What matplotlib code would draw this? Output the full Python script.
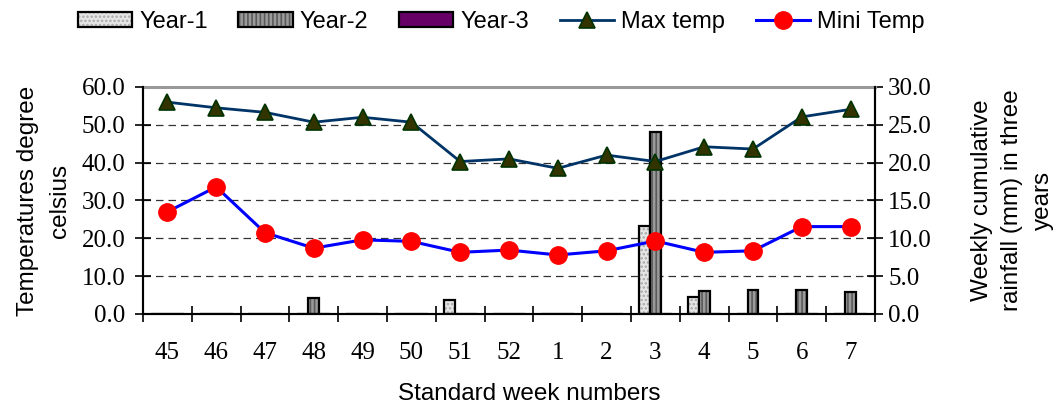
import matplotlib
matplotlib.use("Agg")
import matplotlib.pyplot as plt
import numpy as np
from matplotlib.patches import Patch

weeks = ["45", "46", "47", "48", "49", "50", "51", "52", "1", "2", "3", "4", "5", "6", "7"]
max_temp = [56.0, 54.5, 53.3, 50.7, 52.0, 50.7, 40.3, 41.0, 38.5, 42.0, 40.3, 44.2, 43.6, 52.1, 54.1]
mini_temp = [27.0, 33.6, 21.5, 17.4, 19.6, 19.2, 16.3, 16.9, 15.6, 16.7, 19.3, 16.3, 16.7, 23.1, 23.1]
rain_year1 = [0, 0, 0, 0, 0, 0, 1.8, 0, 0, 0, 11.6, 2.2, 0, 0, 0]
rain_year2 = [0, 0, 0, 2.1, 0, 0, 0, 0, 0, 0, 24.1, 3.1, 3.2, 3.2, 2.85]
rain_year3 = [0] * 15

serif = "Liberation Serif"
sans = "Liberation Sans"
tick_fs = 18
label_fs = 17.5
legend_fs = 17

plt.rcParams["hatch.linewidth"] = 1.2

fig = plt.figure(figsize=(10.55, 4.05), dpi=100)
ax = fig.add_axes([0.1355, 0.2247, 0.6939, 0.5605])
ax2 = ax.twinx()

x = np.arange(len(weeks))
w = 0.225

# rainfall bars on the secondary axis: hatched fill + black outline
bar_styles = [
    (rain_year1, -w, "#e6e6e6", "....", "#a8a8a8"),
    (rain_year2, 0.0, "#9a9a9a", "||||", "#5a5a5a"),
    (rain_year3, w, "#660066", None, "#660066"),
]
handles = []
for vals, off, fc, hatch, hc in bar_styles:
    ax2.bar(x + off, vals, width=w, color=fc, hatch=hatch, edgecolor=hc, linewidth=0)
    ax2.bar(x + off, vals, width=w, fill=False, edgecolor="black", linewidth=1.6)
    handles.append((Patch(facecolor=fc, hatch=hatch, edgecolor=hc, linewidth=0),
                    Patch(fill=False, edgecolor="black", linewidth=1.6)))

ax2.set_ylim(0, 30)
ax2.set_yticks(np.arange(0, 30.1, 5))
ax2.set_yticklabels([f"{v:.1f}" for v in np.arange(0, 30.1, 5)], fontfamily=serif, fontsize=tick_fs)

# temperature lines on the primary axis, drawn above the bars
ax.set_zorder(ax2.get_zorder() + 1)
ax.patch.set_visible(False)
ln_max, = ax.plot(x, max_temp, color="#003366", lw=2, marker="^", ms=12,
                  mfc="#333300", mec="#003300", mew=1.2)
ln_min, = ax.plot(x, mini_temp, color="#0000ff", lw=2.2, marker="o", ms=12.5,
                  mfc="#ff0000", mec="#ff0000")

ax.set_ylim(0, 60)
ax.set_yticks(np.arange(0, 60.1, 10))
ax.set_yticklabels([f"{v:.1f}" for v in np.arange(0, 60.1, 10)], fontfamily=serif, fontsize=tick_fs)
for yv in range(10, 60, 10):
    ax2.axhline(yv / 2, color="#333333", lw=0.9, ls=(0, (6, 4)), zorder=0)
ax.axhline(60, color="#999999", lw=2.2, clip_on=False)

ax.set_xlim(-0.5, len(weeks) - 0.5)
ax.set_xticks(np.arange(-0.5, len(weeks)))
ax.set_xticklabels([])
ax.set_xticks(x, minor=True)
ax.set_xticklabels(weeks, minor=True, fontfamily=serif, fontsize=tick_fs)
ax.tick_params(axis="x", which="major", direction="inout", length=12, width=1.2)
ax.tick_params(axis="x", which="minor", length=0, pad=20)
ax.tick_params(axis="y", direction="inout", length=11, width=1.2, pad=7)
ax2.tick_params(axis="y", direction="inout", length=11, width=1.2, pad=4)

for a in (ax, ax2):
    a.spines["top"].set_visible(False)
    for s in ("left", "right", "bottom"):
        a.spines[s].set_linewidth(1.5)
        a.spines[s].set_color("black")

ax.set_xlabel("Standard week numbers", fontfamily=sans, fontsize=label_fs, labelpad=14)
ax.xaxis.label.set_x(0.527)
ax.set_ylabel("Temperatures degree\ncelsius", fontfamily=sans, fontsize=label_fs,
              labelpad=8, linespacing=1.6)
ax2.set_ylabel("Weekly cumulative\nrainfall (mm) in three\nyears", fontfamily=sans,
               fontsize=label_fs, rotation=90, labelpad=28, linespacing=1.5)

labels = ["Year-1", "Year-2", "Year-3", "Max temp", "Mini Temp"]
fig.legend(handles + [ln_max, ln_min], labels, loc="upper center",
           bbox_to_anchor=(0.475, 1.025), ncol=5, frameon=False,
           prop={"family": sans, "size": legend_fs}, handlelength=2.3,
           handleheight=0.6, handletextpad=0.3, columnspacing=1.3)

fig.savefig("out.png", dpi=100)
